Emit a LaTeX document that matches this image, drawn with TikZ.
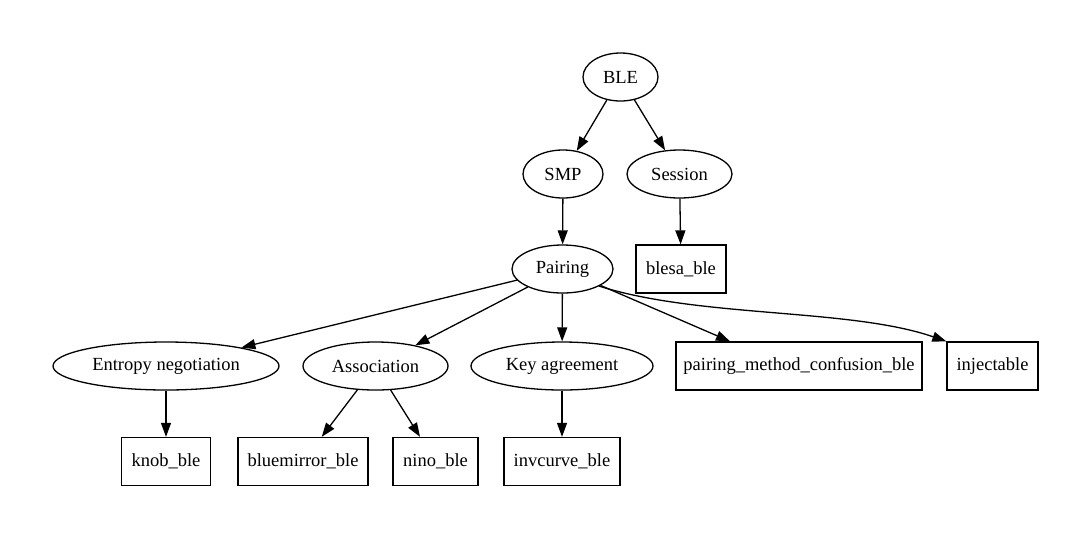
\documentclass[tikz,border=0pt]{standalone}
\usepackage{fontspec}
\setmainfont{Liberation Serif}
\usetikzlibrary{shapes.geometric,arrows.meta}
\begin{document}
\begin{tikzpicture}[x=1pt,y=-1pt,
  every node/.style={font=\fontsize{18.5}{22}\selectfont, inner sep=0pt, line width=1.3pt},
  ell/.style={ellipse, draw, minimum height=48pt},
  box/.style={rectangle, draw, minimum height=48pt},
  edge/.style={line width=1.3pt, -{Triangle[length=14pt,width=10pt]}}]
\useasboundingbox (0,0) rectangle (1092,539);
\node[ell, minimum width=75pt] (ble) at (620.5,77) {BLE};
\node[ell, minimum width=80pt] (smp) at (563,174) {SMP};
\node[ell, minimum width=105pt] (session) at (679.5,174) {Session};
\node[ell, minimum width=101pt] (pairing) at (562.5,269) {Pairing};
\node[box, minimum width=90pt] (blesa) at (681,269) {blesa\_ble};
\node[ell, minimum width=226pt] (entropy) at (166,366) {Entropy negotiation};
\node[ell, minimum width=145pt] (assoc) at (375.5,366) {Association};
\node[ell, minimum width=182pt] (key) at (562,366) {Key agreement};
\node[box, minimum width=246pt] (pmc) at (799,366) {pairing\_method\_confusion\_ble};
\node[box, minimum width=91pt] (inject) at (992.5,366) {injectable};
\node[box, minimum width=89pt] (knob) at (166,461.5) {knob\_ble};
\node[box, minimum width=130pt] (mirror) at (303,461.5) {bluemirror\_ble};
\node[box, minimum width=85pt] (nino) at (435.5,461.5) {nino\_ble};
\node[box, minimum width=116pt] (inv) at (562,461.5) {invcurve\_ble};
\draw[edge] (ble) -- (smp);
\draw[edge] (ble) -- (session);
\draw[edge] (smp) -- (pairing);
\draw[edge] (session) -- (blesa);
\draw[edge] (pairing) -- (entropy);
\draw[edge] (pairing) -- (assoc);
\draw[edge] (pairing) -- (key);
\draw[edge] (pairing) -- ([xshift=-69pt]pmc.north);
\draw[edge] (pairing.-25) .. controls (700,318) and (850,308) .. (inject.north west);
\draw[edge] (entropy) -- (knob);
\draw[edge] (assoc) -- (mirror);
\draw[edge] (assoc) -- (nino);
\draw[edge] (key) -- (inv);
\end{tikzpicture}
\end{document}
